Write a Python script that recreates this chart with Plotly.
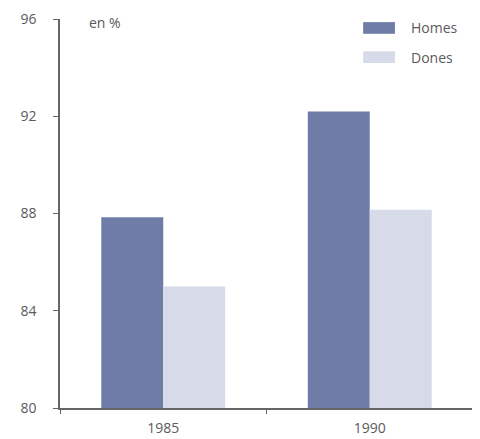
import plotly.graph_objects as go

years = ["1985", "1990"]
series_names = ["Homes", "Dones"]
homes = [87.85, 92.2]
dones = [85.0, 88.15]
y_ticks = [80, 84, 88, 92, 96]

colors = ["#6f7ca8", "#d6dae9"]
txt = "#5a5a5a"
font = dict(family="Open Sans, sans-serif", size=14, color=txt)

fig = go.Figure()
for name, vals, c in zip(series_names, [homes, dones], colors):
    fig.add_trace(go.Bar(x=years, y=vals, name=name, marker=dict(color=c, line=dict(width=0)),
                         showlegend=False))

fig.update_layout(
    width=472, height=431,
    margin=dict(l=52, r=7, t=11, b=31, pad=0, autoexpand=False),
    paper_bgcolor="white", plot_bgcolor="white",
    barmode="group", bargap=0.4, bargroupgap=0,
    font=font,
    xaxis=dict(type="category", showline=True, linecolor="#666666", linewidth=1.5,
               ticks="outside", ticklen=4, tickcolor="#666666", tickson="boundaries",
               showgrid=False, zeroline=False, ticklabelstandoff=6, automargin=False),
    yaxis=dict(range=[80, 96], tickvals=y_ticks, showline=True, linecolor="#666666", linewidth=1.5,
               ticks="outside", ticklen=5, tickcolor="#666666", showgrid=False, zeroline=False,
               ticklabelstandoff=14, automargin=False),
)

fig.add_annotation(text="en %", xref="paper", yref="paper", x=0.066, y=0.992, xanchor="left",
                   yanchor="middle", showarrow=False, font=dict(size=14, color=txt))

# custom legend
for i, (name, c) in enumerate(zip(series_names, colors)):
    yc = 0.977 - i * 0.075
    fig.add_shape(type="rect", xref="paper", yref="paper", x0=0.734, x1=0.811,
                  y0=yc - 0.015, y1=yc + 0.015, fillcolor=c, line=dict(width=0))
    fig.add_annotation(text=name, xref="paper", yref="paper", x=0.845, y=yc, xanchor="left",
                       yanchor="middle", showarrow=False, font=dict(size=14, color=txt))

fig.write_html("out.html")
